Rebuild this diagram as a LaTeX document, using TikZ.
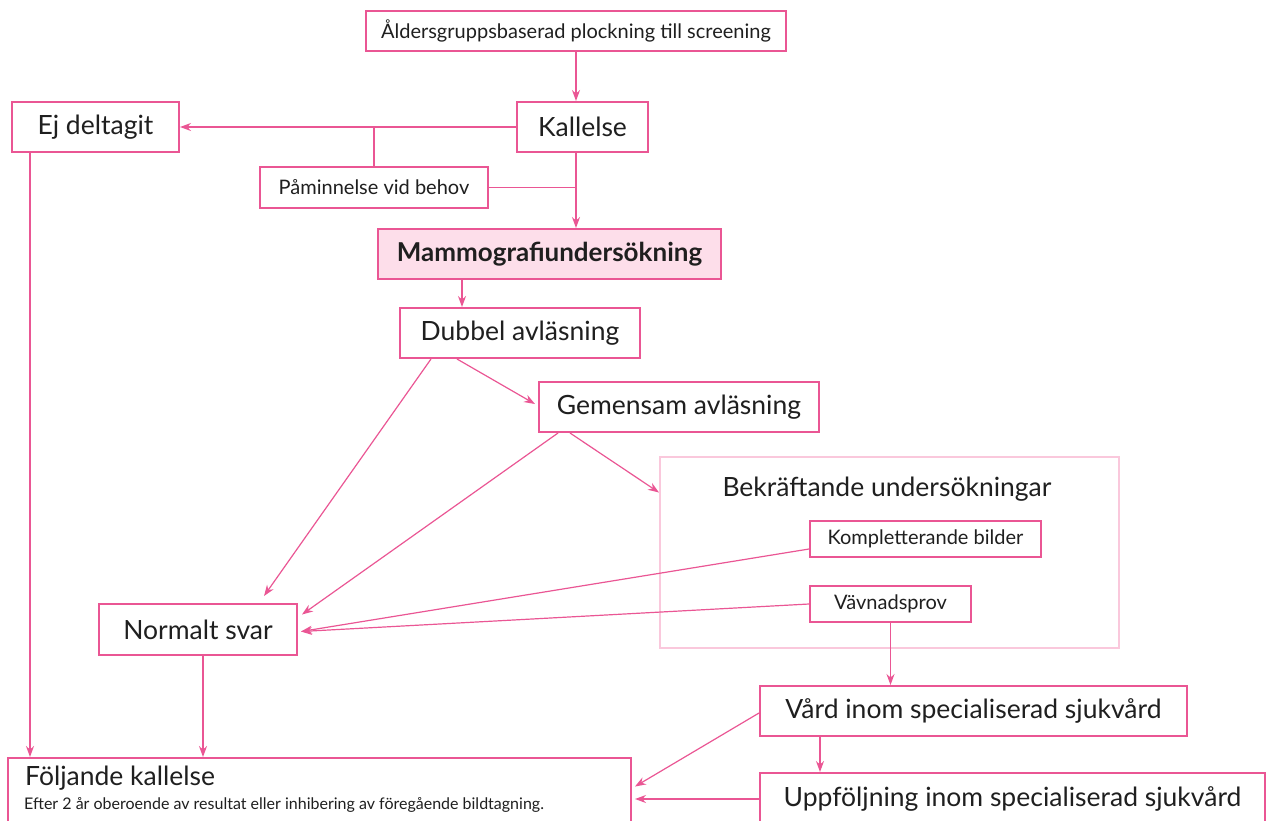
\documentclass[tikz,border=0pt]{standalone}
\usepackage{fontspec}
\setmainfont{Lato}
\usetikzlibrary{arrows.meta,calc}
\definecolor{rosa}{RGB}{234,86,148}
\definecolor{ljusrosa}{RGB}{250,200,220}
\definecolor{rosafyll}{RGB}{253,222,234}
\tikzset{
	ruta/.style={draw=rosa, line width=2pt, fill=white, inner sep=0pt, text=black!88},
	stor/.style={font=\fontsize{26.5}{30}\selectfont},
	liten/.style={font=\fontsize{20}{23}\selectfont},
	pil/.style={draw=rosa, line width=1.2pt, -{Stealth[length=11pt,width=8pt]}},
	linje/.style={draw=rosa, line width=1.2pt},
}

\begin{document}
\begin{tikzpicture}[x=1pt, y=-1pt]
			%%%%% START %%%%%
			\useasboundingbox (0,0) rectangle (1266,820);
			\clip (0,0) rectangle (1266,820);
			
			\node[ruta, liten, minimum width=420, minimum height=40] (alder) at (576,31) {Åldersgruppsbaserad plockning till screening};
			\node[ruta, stor, minimum width=131, minimum height=50] (kallelse) at (582.5,127) {Kallelse};
			\node[ruta, stor, minimum width=167, minimum height=50] (ej) at (95.5,127) {Ej deltagit};
			\node[ruta, liten, minimum width=228, minimum height=41] (paminn) at (374,187.5) {Påminnelse vid behov};
			\node[ruta, stor, fill=rosafyll, minimum width=343, minimum height=50, font=\fontsize{26}{30}\selectfont\bfseries] (mammo) at (549.5,254) {Mammografiundersökning};
			
			\node[ruta, stor, minimum width=240, minimum height=50] (dubbel) at (520,333) {Dubbel avläsning};
			\node[ruta, stor, minimum width=280, minimum height=50] (gemensam) at (679,407) {Gemensam avläsning};
			
			% bekraftande
			\node[draw=ljusrosa, line width=2pt, minimum width=459, minimum height=191, inner sep=0pt] (bekr) at (889.5,552.5) {};
			\node[stor, text=black!88] (bekrtitel) at (887,489) {Bekräftande undersökningar};
			\node[ruta, liten, minimum width=231, minimum height=36] (kompl) at (925.5,539) {Kompletterande bilder};
			\node[ruta, liten, minimum width=161, minimum height=36] (vavnad) at (890.5,604) {Vävnadsprov};
			
			\node[ruta, stor, minimum width=198, minimum height=51] (normalt) at (198,629.5) {Normalt svar};
			\node[ruta, stor, minimum width=427, minimum height=50] (vard) at (973.5,711) {Vård inom specialiserad sjukvård};
			\node[ruta, stor, minimum width=505, minimum height=52] (uppf) at (1012.5,799) {Uppföljning inom specialiserad sjukvård};
			
			\node[ruta, minimum width=623, minimum height=77] (foljande) at (319.5,796.5) {};
			\node[stor, anchor=west, inner sep=0pt, text=black!88] (foljtitel) at (25,778) {Följande kallelse};
			\node[anchor=west, inner sep=0pt, text=black!88, font=\fontsize{16}{18}\selectfont] (foljtext) at (24,805) {Efter 2 år oberoende av resultat eller inhibering av föregående bildtagning.};
			
			% pilar
			\draw[pil] (alder.south) -- (alder.south |- kallelse.north);
			\draw[pil] (kallelse.west) -- (ej.east);
			\coordinate (gren) at (paminn.north |- kallelse.west);
			\draw[linje] (gren) -- (paminn.north);
			\coordinate (k1) at (kallelse.south -| alder.south);
			\draw[pil] (k1) -- (k1 |- mammo.north);
			\draw[linje] (paminn.east) -- (paminn.east -| alder.south);
			\coordinate (m1) at ([xshift=-87.5pt]mammo.south);
			\draw[pil] (m1) -- (m1 |- dubbel.north);
			
			\draw[pil] ([xshift=-89pt]dubbel.south) -- ([xshift=66pt, yshift=7pt]normalt.north);
			\draw[pil] ([xshift=-63pt]dubbel.south) -- ([xshift=-3pt, yshift=3pt]gemensam.west);
			\draw[pil] ([xshift=-121pt]gemensam.south) -- ([xshift=4pt, yshift=15pt]normalt.east);
			\draw[pil] ([xshift=-109pt]gemensam.south) -- ([yshift=60pt]bekr.west);
			\draw[pil] ([yshift=-10pt]kompl.west) -- ([xshift=3pt, yshift=-2pt]normalt.east);
			\draw[pil] (vavnad.west) -- ([xshift=3pt, yshift=-2pt]normalt.east);
			\draw[pil] (vavnad.south) -- (vavnad.south |- vard.north);
			
			\coordinate (e1) at ([xshift=-65.5pt]ej.south);
			\draw[pil] (e1) -- (e1 |- foljande.north);
			\coordinate (n1) at ([xshift=5pt]normalt.south);
			\draw[pil] (n1) -- (n1 |- foljande.north);
			\draw[pil] ([yshift=-2pt]vard.west) -- ([xshift=3pt, yshift=10pt]foljande.east);
			\coordinate (v1) at ([xshift=-153.5pt]vard.south);
			\draw[pil] (v1) -- (v1 |- uppf.north);
			\draw[pil] (uppf.west) -- ([xshift=3pt]uppf.west -| foljande.east);
			
			%%%%% END %%%%%
\end{tikzpicture}
\end{document}
